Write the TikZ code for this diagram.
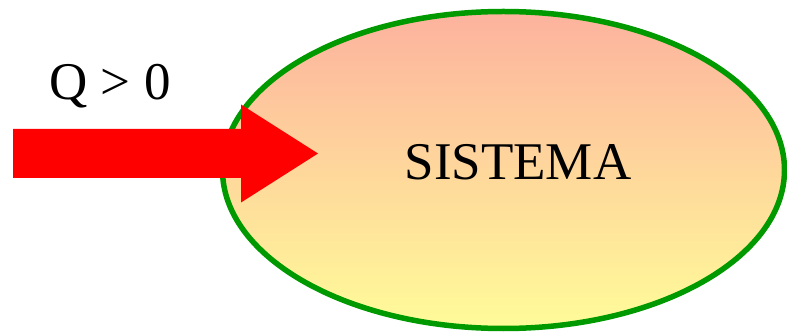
\documentclass[tikz,border=0pt]{standalone}
\usepackage{fontspec}
\setmainfont{Liberation Serif}
\definecolor{topc}{RGB}{253,178,158}
\definecolor{botc}{RGB}{255,252,153}
\definecolor{rimc}{RGB}{0,153,0}
\definecolor{arrc}{RGB}{255,0,0}
\tikzset{
  sysbox/.style={ellipse, draw=rimc, line width=5.5pt, top color=topc, bottom color=botc,
    minimum width=562pt, minimum height=317pt, inner sep=0pt},
  lbl/.style={font=\fontsize{53}{60}\selectfont, anchor=base, inner sep=0pt}
}
\usetikzlibrary{shapes.geometric}
\begin{document}
\begin{tikzpicture}[x=1pt,y=1pt]
\useasboundingbox (0,0) rectangle (787,332);
\node[sysbox] (sys) at (503.5,162) {};
\node[lbl] (systxt) at (518,152) {SISTEMA};
\node[lbl] (q) at (110,232) {Q > 0};
\coordinate (tail) at (13,178.5);
\coordinate (tip) at (318,178.5);
\fill[arrc] (tail) ++(0,24.5) -- ++(228,0) -- ++(0,24.5) -- (tip) -- ++(-77,-49) -- ++(0,24.5) -- ++(-228,0) -- cycle;
\end{tikzpicture}
\end{document}
